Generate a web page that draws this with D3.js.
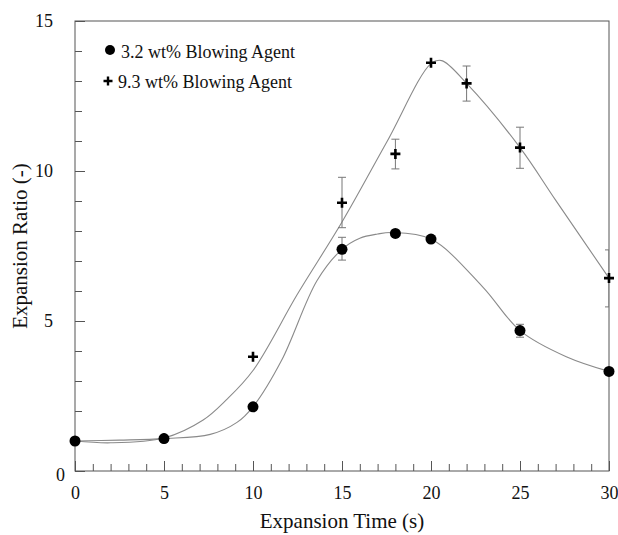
<!DOCTYPE html>
<html>
<head>
<meta charset="utf-8">
<script src="https://cdn.jsdelivr.net/npm/d3@7"></script>
<style>
body { margin: 0; background: #fff; }
text { font-family: "Liberation Serif", "Times New Roman", serif; fill: #111; }
</style>
</head>
<body>
<svg id="chart" width="618" height="535"></svg>
<script>
// measured points, 3.2 wt% blowing agent
var timesLow = [0, 5, 10, 15, 18, 20, 25, 30];
var ratioLow = [1.0, 1.08, 2.14, 7.39, 7.92, 7.73, 4.68, 3.32];

// measured points, 9.3 wt% blowing agent
var timesHigh = [0, 5, 10, 15, 18, 20, 22, 25, 30];
var ratioHigh = [1.0, 1.08, 3.81, 8.94, 10.57, 13.61, 12.92, 10.78, 6.43];

// error bars
var errTimesLow = [15, 25];
var errLowMin = [7.03, 4.46];
var errLowMax = [7.79, 4.89];
var errTimesHigh = [15, 18, 22, 25, 30];
var errHighMin = [8.11, 10.07, 12.33, 10.09, 5.47];
var errHighMax = [9.79, 11.06, 13.5, 11.46, 7.37];

// fitted curves
var fitTimesLow = [0, 2.5, 5, 7.6, 9.1, 10, 11.6, 13.6, 15, 16, 17, 17.8, 20, 22.9, 25, 27.6, 30];
var fitLow = [1.0, 1.03, 1.08, 1.22, 1.62, 2.14, 3.68, 6.35, 7.39, 7.76, 7.9, 7.95, 7.73, 6.14, 4.68, 3.81, 3.32];
var fitTimesHigh = [0, 2, 5, 7.2, 8.5, 10, 12.5, 15, 17.5, 20, 20.6, 22, 25, 27, 30];
var fitHigh = [1.0, 0.94, 1.1, 1.7, 2.37, 3.35, 5.9, 8.3, 10.95, 13.58, 13.68, 12.92, 10.78, 9.03, 6.43];

var xMajor = [0, 5, 10, 15, 20, 25, 30];
var yMajor = [0, 5, 10, 15];
var legendLabels = ['3.2 wt% Blowing Agent', '9.3 wt% Blowing Agent'];

var margin = {top: 21, right: 9, bottom: 64, left: 75};
var width = 618 - margin.left - margin.right;
var height = 535 - margin.top - margin.bottom;

var svg = d3.select('#chart');
var g = svg.append('g').attr('transform', 'translate(' + margin.left + ',' + margin.top + ')');

var x = d3.scaleLinear().domain([0, 30]).range([0, width]);
var y = d3.scaleLinear().domain([0, 15]).range([height, 0]);

svg.append('defs').append('clipPath').attr('id', 'plotClip')
    .append('rect').attr('width', width).attr('height', height);

//minor ticks
g.append('g').attr('class', 'axis')
    .attr('transform', 'translate(0,' + height + ')')
    .call(d3.axisBottom(x).tickValues(d3.range(0, 31)).tickSize(-7).tickFormat(''));
g.append('g').attr('class', 'axis')
    .call(d3.axisLeft(y).tickValues(d3.range(0, 16)).tickSize(-7).tickFormat(''));

//major ticks with labels
g.append('g').attr('class', 'axis')
    .attr('transform', 'translate(0,' + height + ')')
    .call(d3.axisBottom(x).tickValues(xMajor).tickSize(-10).tickPadding(15).tickFormat(d3.format('d')));
var yAxis = g.append('g').attr('class', 'axis')
    .call(d3.axisLeft(y).tickValues(yMajor).tickSize(-10).tickPadding(22).tickFormat(d3.format('d')));

g.selectAll('.axis .domain').remove();
g.selectAll('.axis line').attr('stroke', '#555');
g.selectAll('.axis text').attr('font-size', 18).attr('fill', '#111')
    .attr('font-family', '"Liberation Serif", "Times New Roman", serif');

// the 0 on the y axis sits closer to the corner in the original
yAxis.selectAll('.tick').filter(function(d){ return d === 0; })
    .select('text').attr('x', -10).attr('dy', '0.55em');

//frame
g.append('rect')
    .attr('x', 0).attr('y', 0)
    .attr('width', width).attr('height', height)
    .attr('fill', 'none').attr('stroke', '#555').attr('stroke-width', 1);

//fitted curves
var line = d3.line()
    .x(function(d){ return x(d[0]); })
    .y(function(d){ return y(d[1]); })
    .curve(d3.curveCatmullRom.alpha(0.5));

[[fitTimesLow, fitLow], [fitTimesHigh, fitHigh]].forEach(function(s){
    g.append('path')
        .datum(d3.zip(s[0], s[1]))
        .attr('d', line)
        .attr('fill', 'none')
        .attr('stroke', '#8a8a8a')
        .attr('stroke-width', 1.1);
});

//error bars
var errors = d3.zip(errTimesLow, errLowMin, errLowMax).concat(d3.zip(errTimesHigh, errHighMin, errHighMax));
var errG = g.append('g').attr('clip-path', 'url(#plotClip)')
    .selectAll('g').data(errors).enter().append('g')
    .attr('stroke', '#777').attr('stroke-width', 1);
errG.append('line')
    .attr('x1', function(d){ return x(d[0]); }).attr('x2', function(d){ return x(d[0]); })
    .attr('y1', function(d){ return y(d[1]); }).attr('y2', function(d){ return y(d[2]); });
errG.append('line')
    .attr('x1', function(d){ return x(d[0]) - 4; }).attr('x2', function(d){ return x(d[0]) + 4; })
    .attr('y1', function(d){ return y(d[1]); }).attr('y2', function(d){ return y(d[1]); });
errG.append('line')
    .attr('x1', function(d){ return x(d[0]) - 4; }).attr('x2', function(d){ return x(d[0]) + 4; })
    .attr('y1', function(d){ return y(d[2]); }).attr('y2', function(d){ return y(d[2]); });

//crosses
var crossPath = 'M-5,0H5M0,-5V5';
g.selectAll('path.cross')
    .data(d3.zip(timesHigh, ratioHigh))
    .enter().append('path')
    .attr('class', 'cross')
    .attr('d', crossPath)
    .attr('transform', function(d){ return 'translate(' + x(d[0]) + ',' + y(d[1]) + ')'; })
    .attr('stroke', '#000').attr('stroke-width', 2.6).attr('fill', 'none');

//circles
g.selectAll('circle.dot')
    .data(d3.zip(timesLow, ratioLow))
    .enter().append('circle')
    .attr('class', 'dot')
    .attr('cx', function(d){ return x(d[0]); })
    .attr('cy', function(d){ return y(d[1]); })
    .attr('r', 5.5)
    .attr('fill', '#000');

//legend
var legend = svg.append('g');
legend.append('circle').attr('cx', 110).attr('cy', 50).attr('r', 5).attr('fill', '#000');
legend.append('text').attr('x', 121).attr('y', 58).attr('font-size', 18).text(legendLabels[0]);
legend.append('path').attr('d', 'M-4.5,0H4.5M0,-4.5V4.5').attr('transform', 'translate(108,81)')
    .attr('stroke', '#000').attr('stroke-width', 2.4).attr('fill', 'none');
legend.append('text').attr('x', 118).attr('y', 88).attr('font-size', 18).text(legendLabels[1]);

//axis titles
svg.append('text')
    .attr('x', margin.left + width / 2).attr('y', 528)
    .attr('text-anchor', 'middle').attr('font-size', 21)
    .text('Expansion Time (s)');
svg.append('text')
    .attr('transform', 'translate(27,' + (margin.top + height / 2) + ') rotate(-90)')
    .attr('text-anchor', 'middle').attr('font-size', 21)
    .text('Expansion Ratio (-)');
</script>
</body>
</html>
